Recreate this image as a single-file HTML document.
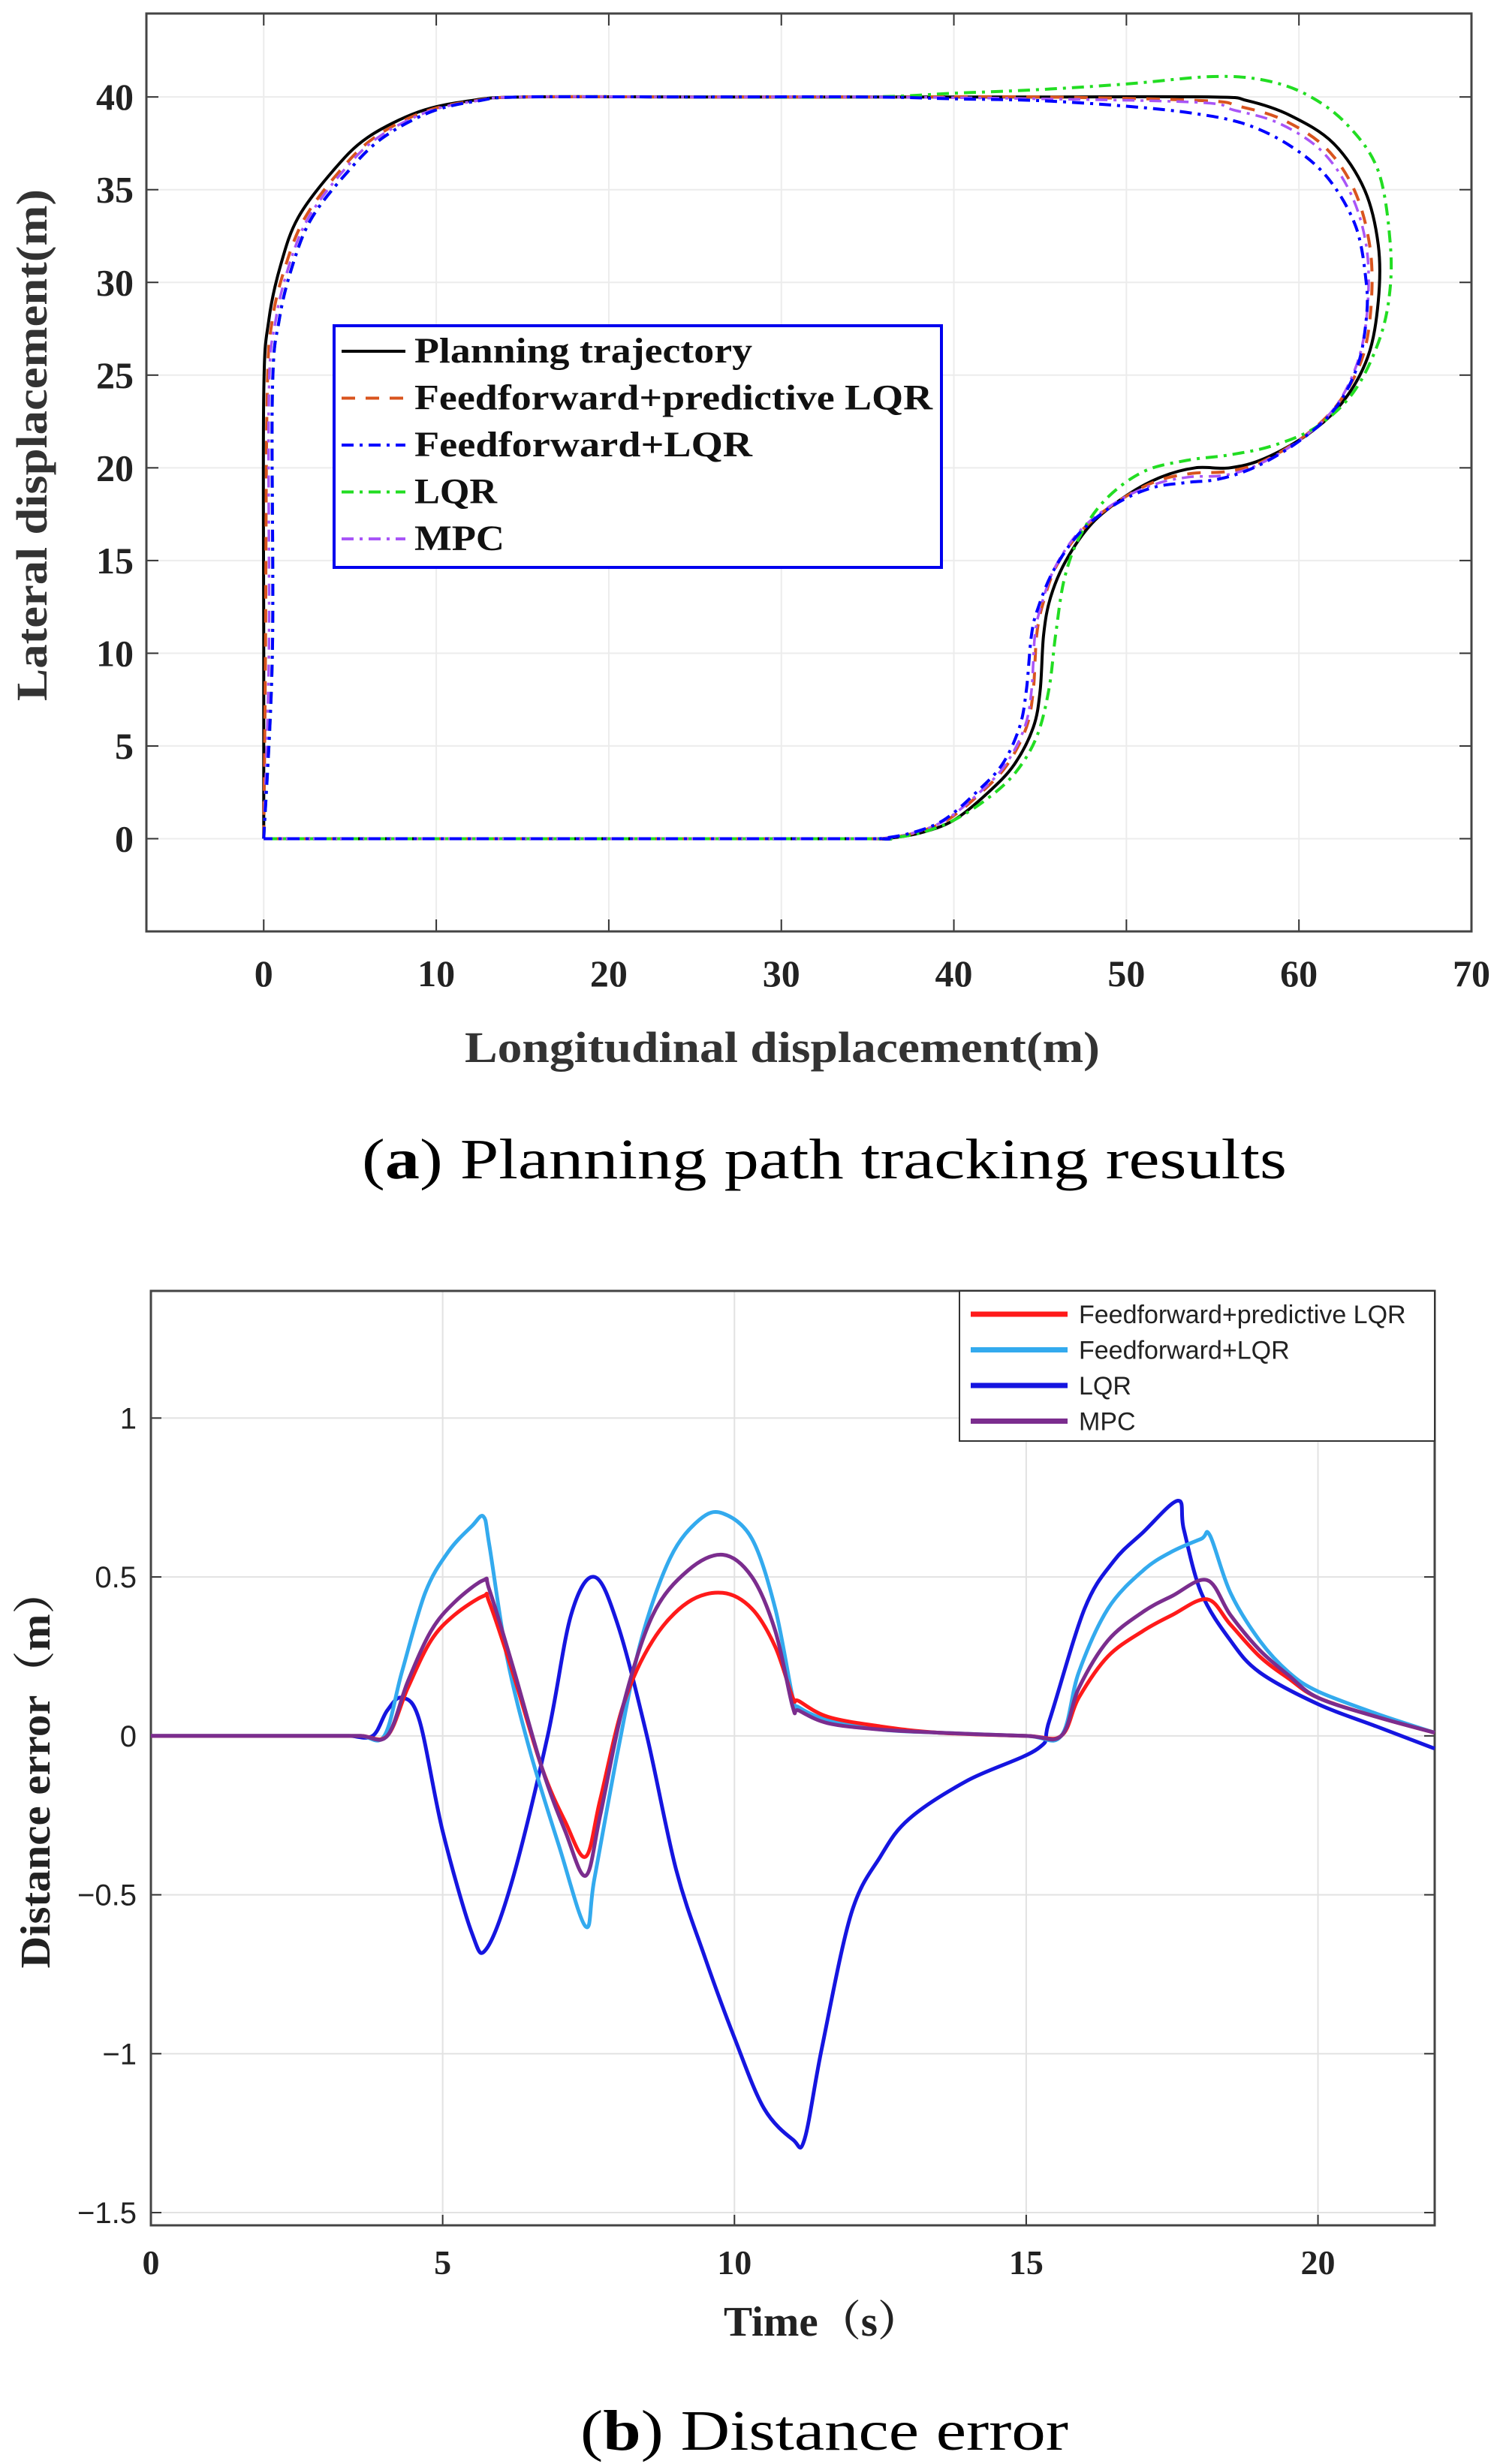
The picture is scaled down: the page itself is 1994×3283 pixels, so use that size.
<!DOCTYPE html>
<html><head><meta charset="utf-8"><style>
html,body{margin:0;padding:0;background:#fff}
svg{display:block}
</style></head><body>
<svg id="fig" width="1994" height="3283" xmlns="http://www.w3.org/2000/svg">
<rect x="0" y="0" width="1994" height="3283" fill="#fff"/>
<g id="chartA"></g>
<g id="chartB"></g>
<text x="1098" y="1570" text-anchor="middle" font-family="Liberation Serif, serif" font-size="76" textLength="1232" lengthAdjust="spacingAndGlyphs">(<tspan font-weight="bold">a</tspan>) Planning path tracking results</text>
<text x="1098" y="3264" text-anchor="middle" font-family="Liberation Serif, serif" font-size="76" textLength="650" lengthAdjust="spacingAndGlyphs">(<tspan font-weight="bold">b</tspan>) Distance error</text>
</svg>
<script>
// ---------- Chart A data ----------
const aXTicks = [0,10,20,30,40,50,60,70];
const aYTicks = [0,5,10,15,20,25,30,35,40];
const planX = [0,0,0,0.3,1,2,4,6,9,12,15,25,35,45,55,57,59.5,62,63.8,64.6,64.6,64,62.5,60.5,58,56,54,52,50,48,46.5,45.6,45.2,45,44.6,43.5,42,40,38,36,35,20,0];
const planY = [0,10,24,28,31,33.5,36,37.8,39.2,39.8,40,40,40,40,40,39.8,39,37.5,35,32,29,26,23.5,21.8,20.5,20,20,19.5,18.5,17,15,13,11,8,6,4,2.5,1,0.3,0,0,0,0];
const ffpX = [0,0.1,0.2,0.5,1.3,2.4,4.4,6.4,9.3,12.3,15,25,35,45,54.5,56.5,59,61.5,63.2,64.1,64.2,63.7,62.3,60.3,57.8,55.8,53.8,51.8,49.7,47.6,46,45.2,44.8,44.6,44.2,43.1,41.6,39.6,37.7,35.8,35,20,0];
const ffpY = [0,10,24,28,31,33.5,36,37.8,39.2,39.8,40,40,40,40,39.8,39.5,38.8,37.3,35,32,29,26,23.5,21.7,20.3,19.8,19.7,19.3,18.3,16.8,14.8,12.8,11,8,6,4,2.5,1,0.3,0,0,0,0];
const fflX = [0,0.5,0.5,0.9,1.7,2.8,4.9,6.9,9.7,12.5,15,25,35,40,45,50,54,57,59.6,61.7,63.3,63.9,63.9,63.4,62.1,60.1,57.6,55.4,53.4,51.4,49.3,47.3,45.8,44.9,44.5,44.2,43.8,42.8,41.3,39.4,37.5,35.7,35,20,0];
const fflY = [0,10,24,28,31,33.5,36,37.8,39.2,39.8,40,40,40,39.9,39.8,39.5,39.1,38.5,37.3,35.6,33,30,28,25.5,23.2,21.5,20.1,19.4,19.2,18.9,18,16.5,14.5,12.5,11,8,6,4,2.5,1,0.3,0,0,0,0];
const lqrX = [0,0.5,0.5,0.9,1.7,2.8,4.9,6.9,9.7,12.5,15,25,35,40,45,50,55,58,60.5,62.8,64.6,65.3,65.2,64.5,63.1,61,58.5,56,53.5,51,48.8,47.3,46.4,45.9,45.5,44.8,43.6,42,40,38,36,35,20,0];
const lqrY = [0,10,24,28,31,33.5,36,37.8,39.2,39.8,40,40,40,40.2,40.4,40.7,41.1,40.9,40.1,38.5,36,32,29,26.5,24,22.2,21.2,20.7,20.4,19.8,18.3,16.3,14,11,8,5.5,3.6,2.2,1,0.3,0,0,0,0];
const mpcX = [0,0.3,0.3,0.7,1.5,2.6,4.6,6.6,9.5,12.4,15,25,35,45,54.3,56.2,58.8,61.3,63,63.9,64,63.5,62.2,60.2,57.7,55.7,53.6,51.6,49.5,47.4,45.9,45.1,44.7,44.5,44.1,43,41.5,39.5,37.6,35.8,35,20,0];
const mpcY = [0,10,24,28,31,33.5,36,37.8,39.2,39.8,40,40,40,39.9,39.7,39.3,38.6,37.1,34.8,32,29,26,23.4,21.6,20.2,19.6,19.5,19.1,18.2,16.7,14.7,12.7,11,8,6,4,2.5,1,0.3,0,0,0,0];

// ---------- Chart B data ----------
const bXTicks = [0,5,10,15,20];
const bYTicks = [-1.5,-1,-0.5,0,0.5,1];
const bYLabels = ["\u22121.5","\u22121","\u22120.5","0","0.5","1"];
const redT = [0,1,2,3,3.6,4.05,4.4,4.8,5.2,5.7,5.8,6.2,6.7,7.1,7.45,7.7,8.1,8.6,9.2,9.8,10.3,10.7,11.0,11.1,11.6,12.5,13.5,15,15.6,15.9,16.4,17,17.5,18.1,18.5,19,19.5,20,21,22];
const redV = [0,0,0,0,0,0,0.15,0.3,0.38,0.44,0.42,0.2,-0.1,-0.27,-0.38,-0.2,0.1,0.3,0.42,0.45,0.4,0.28,0.12,0.11,0.06,0.03,0.01,0,0,0.12,0.25,0.33,0.38,0.43,0.35,0.25,0.18,0.12,0.06,0.01];
const lbT = [0,1,2,3,3.6,4.0,4.3,4.7,5.1,5.5,5.7,5.8,6.1,6.5,7.0,7.45,7.6,8.0,8.4,8.9,9.4,9.8,10.3,10.7,11.0,11.1,11.6,12.5,13.5,15,15.6,15.9,16.4,17,17.5,18.0,18.15,18.5,19,19.5,20,21,22];
const lbV = [0,0,0,0,0,0,0.2,0.45,0.58,0.66,0.69,0.6,0.25,-0.05,-0.35,-0.6,-0.45,-0.05,0.3,0.56,0.68,0.7,0.62,0.4,0.12,0.09,0.05,0.02,0.01,0,0,0.2,0.4,0.52,0.58,0.62,0.63,0.45,0.3,0.2,0.14,0.07,0.01];
const blT = [0,1,2,3,3.4,3.8,4.05,4.3,4.6,5.0,5.5,5.75,6.2,6.8,7.2,7.6,8.0,8.5,9.0,9.5,10.0,10.5,11.0,11.2,11.5,12.0,12.5,13.0,14.0,15.2,15.4,16.0,16.5,17.0,17.6,17.7,18.0,18.5,19,20,21,22];
const blV = [0,0,0,0,0,0,0.08,0.12,0.05,-0.3,-0.62,-0.67,-0.45,0.0,0.38,0.5,0.35,0.0,-0.42,-0.7,-0.95,-1.17,-1.27,-1.27,-0.98,-0.56,-0.38,-0.26,-0.14,-0.04,0.05,0.4,0.55,0.64,0.74,0.65,0.45,0.3,0.2,0.1,0.03,-0.04];
const puT = redT;
const puV = [0,0,0,0,0,0,0.17,0.33,0.42,0.49,0.46,0.22,-0.1,-0.3,-0.44,-0.25,0.1,0.38,0.52,0.57,0.5,0.33,0.09,0.08,0.04,0.02,0.01,0,0,0.15,0.3,0.39,0.44,0.49,0.38,0.27,0.19,0.12,0.06,0.01];

const NS="http://www.w3.org/2000/svg";
function mk(tag, attrs, parent){const e=document.createElementNS(NS,tag);for(const k in attrs)e.setAttribute(k,attrs[k]);parent.appendChild(e);return e;}
function smooth(pts){
  let d="M"+pts[0][0].toFixed(1)+","+pts[0][1].toFixed(1);
  for(let i=0;i<pts.length-1;i++){
    const p0=pts[Math.max(0,i-1)],p1=pts[i],p2=pts[i+1],p3=pts[Math.min(pts.length-1,i+2)];
    const c1=[p1[0]+(p2[0]-p0[0])/6,p1[1]+(p2[1]-p0[1])/6];
    const c2=[p2[0]-(p3[0]-p1[0])/6,p2[1]-(p3[1]-p1[1])/6];
    d+="C"+c1[0].toFixed(1)+","+c1[1].toFixed(1)+" "+c2[0].toFixed(1)+","+c2[1].toFixed(1)+" "+p2[0].toFixed(1)+","+p2[1].toFixed(1);
  }
  return d;
}

// ---------- Chart A ----------
(function(){
  const g=document.getElementById('chartA');
  const L=195,R=1960,T=18,B=1241;
  const xMin=-6.8,xMax=70,yMin=-5,yMax=44.5;
  const sx=v=>L+(v-xMin)/(xMax-xMin)*(R-L);
  const sy=v=>B-(v-yMin)/(yMax-yMin)*(B-T);
  const serif="Liberation Serif, serif";
  aXTicks.forEach(t=>{
    const x=sx(t);
    if(t<70){const gl=mk('line',{x1:x,y1:T,x2:x,y2:B,stroke:'#ececec','stroke-width':2},g);
    }
    mk('line',{x1:x,y1:B,x2:x,y2:B-16,stroke:'#333','stroke-width':2},g);
    mk('line',{x1:x,y1:T,x2:x,y2:T+16,stroke:'#333','stroke-width':2},g);
    const tx=mk('text',{x:x,y:1314,'text-anchor':'middle','font-family':serif,'font-weight':'bold','font-size':50,fill:'#222'},g);
    tx.textContent=t;
    
    
  });
  aYTicks.forEach(t=>{
    const y=sy(t);
    const gl=mk('line',{x1:L,y1:y,x2:R,y2:y,stroke:'#ececec','stroke-width':2},g);
    
    mk('line',{x1:L,y1:y,x2:L+16,y2:y,stroke:'#333','stroke-width':2},g);
    mk('line',{x1:R,y1:y,x2:R-16,y2:y,stroke:'#333','stroke-width':2},g);
    const tx=mk('text',{x:178,y:y+17,'text-anchor':'end','font-family':serif,'font-weight':'bold','font-size':50,fill:'#222'},g);
    tx.textContent=t;
    
    
  });
  const box=mk('rect',{x:L,y:T,width:R-L,height:B-T,fill:'none',stroke:'#444','stroke-width':3},g);
  
  const series=[
    ['planning-trajectory-line',planX,planY,'#000',4,''],
    ['ff-predictive-lqr-line',ffpX,ffpY,'#d9541e',4,'18,14'],
    ['mpc-line',mpcX,mpcY,'#a855f7',3.5,'16,8,4,8'],
    ['lqr-line',lqrX,lqrY,'#22dd22',4,'16,8,4,8'],
    ['ff-lqr-line',fflX,fflY,'#0000ff',4,'16,8,4,8']
  ];
  series.forEach(s=>{
    const pts=s[1].map((v,i)=>[sx(v),sy(s[2][i])]);
    const p=mk('path',{d:smooth(pts),fill:'none',stroke:s[3],'stroke-width':s[4],'stroke-dasharray':s[5],'stroke-linejoin':'round'},g);
    
    
  });
  const lg=mk('g',{},g);
  
  mk('rect',{x:445,y:434,width:809,height:322,fill:'#fff',stroke:'#0000ee','stroke-width':4},lg);
  const ents=[['Planning trajectory','#000',''],['Feedforward+predictive LQR','#d9541e','18,14'],['Feedforward+LQR','#0000ff','16,8,4,8'],['LQR','#22dd22','16,8,4,8'],['MPC','#a855f7','16,8,4,8']];
  const ents_w=[450,690,450,110,120];
  ents.forEach((e,i)=>{
    const y=468+i*62.5;
    mk('line',{x1:455,y1:y,x2:540,y2:y,stroke:e[1],'stroke-width':4,'stroke-dasharray':e[2]},lg);
    const tx=mk('text',{x:552,y:y+15,'font-family':serif,'font-weight':'bold','font-size':48,fill:'#111',textLength:ents_w[i],lengthAdjust:'spacingAndGlyphs'},lg);
    tx.textContent=e[0];
    
    
  });
  const xt=mk('text',{x:1042,y:1415,'text-anchor':'middle','font-family':serif,'font-weight':'bold','font-size':58,fill:'#333',textLength:846,lengthAdjust:'spacingAndGlyphs'},g);
  xt.textContent='Longitudinal displacement(m)';
  
  const yt=mk('text',{x:0,y:0,'text-anchor':'middle','font-family':serif,'font-weight':'bold','font-size':58,fill:'#333',textLength:682,lengthAdjust:'spacingAndGlyphs',transform:'translate(62,593) rotate(-90)'},g);
  yt.textContent='Lateral displacement(m)';
  
})();

// ---------- Chart B ----------
(function(){
  const g=document.getElementById('chartB');
  const L=201,R=1911,T=1720,B=2965;
  const xMin=0,xMax=22,yMin=-1.54,yMax=1.4;
  const sx=v=>L+(v-xMin)/(xMax-xMin)*(R-L);
  const sy=v=>B-(v-yMin)/(yMax-yMin)*(B-T);
  const serif="Liberation Serif, serif", sans="Liberation Sans, sans-serif";
  bXTicks.forEach(t=>{
    const x=sx(t);
    const gl=mk('line',{x1:x,y1:T,x2:x,y2:B,stroke:'#e2e2e2','stroke-width':2},g);
    
    mk('line',{x1:x,y1:B,x2:x,y2:B-14,stroke:'#333','stroke-width':2},g);
    const tx=mk('text',{x:x,y:3030,'text-anchor':'middle','font-family':serif,'font-weight':'bold','font-size':46,fill:'#222'},g);
    tx.textContent=t;
    
    
  });
  bYTicks.forEach((t,i)=>{
    const y=sy(t);
    const gl=mk('line',{x1:L,y1:y,x2:R,y2:y,stroke:'#e2e2e2','stroke-width':2},g);
    
    mk('line',{x1:L,y1:y,x2:L+14,y2:y,stroke:'#333','stroke-width':2},g);
    mk('line',{x1:R,y1:y,x2:R-14,y2:y,stroke:'#333','stroke-width':2},g);
    const tx=mk('text',{x:182,y:y+14,'text-anchor':'end','font-family':sans,'font-size':40,fill:'#222'},g);
    tx.textContent=bYLabels[i];
    
    
  });
  const box=mk('rect',{x:L,y:T,width:R-L,height:B-T,fill:'none',stroke:'#444','stroke-width':3},g);
  
  const series=[
    ['lqr-error-line',blT,blV,'#1515e0'],
    ['ff-lqr-error-line',lbT,lbV,'#33aaee'],
    ['ff-predictive-lqr-error-line',redT,redV,'#ff1a1a'],
    ['mpc-error-line',puT,puV,'#7b2d8e']
  ];
  series.forEach(s=>{
    const pts=s[1].map((v,i)=>[sx(v),sy(s[2][i])]);
    const p=mk('path',{d:smooth(pts),fill:'none',stroke:s[3],'stroke-width':5,'stroke-linejoin':'round'},g);
    
    
  });
  const lg=mk('g',{},g);
  
  mk('rect',{x:1278,y:1720,width:633,height:200,fill:'#fff',stroke:'#333','stroke-width':2},lg);
  const ents=[['Feedforward+predictive LQR','#ff1a1a'],['Feedforward+LQR','#33aaee'],['LQR','#1515e0'],['MPC','#7b2d8e']];
  ents.forEach((e,i)=>{
    const y=1751+i*47.5;
    mk('line',{x1:1293,y1:y,x2:1422,y2:y,stroke:e[1],'stroke-width':7},lg);
    const tx=mk('text',{x:1437,y:y+12,'font-family':sans,'font-size':34,fill:'#222',letterSpacing:'-1'},lg);
    tx.textContent=e[0];
    
    
  });
  const xt=mk('text',{x:1095,y:3112,'text-anchor':'middle','font-family':'Liberation Serif, "Noto Serif CJK SC", serif','font-weight':'bold','font-size':56,fill:'#222',textLength:262,lengthAdjust:'spacingAndGlyphs'},g);
  xt.textContent='Time（s）';
  
  const yt=mk('text',{x:0,y:0,'text-anchor':'middle','font-family':'Liberation Serif, "Noto Serif CJK SC", serif','font-weight':'bold','font-size':56,fill:'#222',textLength:531,lengthAdjust:'spacingAndGlyphs',transform:'translate(66,2357) rotate(-90)'},g);
  yt.textContent='Distance error（m）';
  
})();
</script>
</body></html>
